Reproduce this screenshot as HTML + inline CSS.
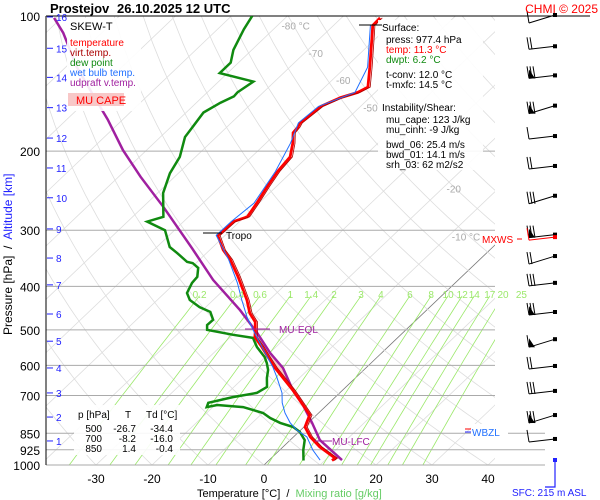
<!DOCTYPE html>
<html><head><meta charset="utf-8">
<style>
html,body{margin:0;padding:0;background:#fff;}
svg{display:block;font-family:"Liberation Sans",Arial,sans-serif;}
text{white-space:pre;}
</style></head>
<body>
<svg id="chart" width="600" height="500" viewBox="0 0 600 500" xmlns="http://www.w3.org/2000/svg">
<defs><clipPath id="pc"><rect x="46" y="16" width="449" height="449"/></clipPath></defs>
<rect width="600" height="500" fill="#fff"/>
<g id="grid" clip-path="url(#pc)"></g>
<g id="isobars"></g>
<g id="series" clip-path="url(#pc)"></g>
<g id="overlay"></g>
</svg>
<script>
// ---- data (pressure hPa, temperature °C) ----
const tempP=[977,965,912,866,823,802,774,735,681,640,608,575,546,519,500,480,459,429,381,349,332,308,287,280,261,240,222,206,192,182,177,173,166,159,152,148,144,130,109,105,101];
const tempT=[11.3,11.4,6.6,3.0,0.2,-0.4,-1.2,-4.3,-8.9,-12.9,-16.2,-19.5,-22.5,-25.6,-26.9,-28.4,-31.0,-34.0,-39.9,-44.5,-47.6,-51.3,-51.1,-49.5,-50.4,-51.6,-52.6,-53.1,-55.2,-57.1,-57.3,-57.7,-57.4,-57.1,-55.2,-53.1,-52.3,-55.7,-61.7,-63.0,-63.1];
const dewP=[977,926,880,844,823,806,786,766,743,735,743,727,706,691,670,640,614,593,575,546,521,513,500,488,475,456,445,429,414,393,381,364,355,353,337,327,300,287,280,248,224,206,186,177,164,156,151,148,140,134,127,119,107,100];
const dewT=[6.2,4.2,2.6,0.2,-1.9,-5.0,-7.7,-9.9,-14.6,-19.6,-21.1,-21.6,-18.3,-14.8,-14.1,-15.8,-17.1,-18.6,-20.1,-23.4,-25.8,-29.9,-35.5,-36.4,-36.3,-38.3,-41.1,-44.2,-46.0,-47.0,-47.2,-48.7,-50.6,-51.8,-55.3,-57.7,-61.7,-66.5,-64.5,-69.0,-71.5,-72.8,-75.6,-76.1,-76.9,-75.7,-74.5,-74.6,-73.8,-81.4,-81.4,-83.3,-85.3,-86.3];
const wbP=[975,926,866,836,806,766,727,691,637,605,554,500,468,429,393,349,308,287,261,222,192,173,159,148,130,105];
const wbT=[9.1,5.9,2.4,-0.7,-3.2,-6.0,-8.4,-10.3,-14.2,-16.8,-21.7,-27.3,-30.8,-34.9,-38.9,-44.8,-51.6,-51.5,-50.9,-53.0,-55.6,-58.0,-57.5,-53.6,-56.1,-63.4];
const parP=[975,880,806,735,681,608,563,508,452,387,329,266,228,199,170,151,130,109,101];
const parT=[13.0,5.3,0.7,-4.3,-8.9,-14.8,-19.9,-26.0,-33.3,-43.8,-53.5,-66.4,-76.1,-84.2,-92.7,-99.5,-108,-116.9,-121.3];
const isobarLevels=[100,200,300,400,500,600,700,850,925,1000];
const xTicks=[-30,-20,-10,0,10,20,30,40];
const mixRatios=[0.2,0.4,0.6,1,1.4,2,3,4,6,8,10,12,14,17,20,25];
const mixLabels=["0.2","0.4","0.6","1","1.4","2","3","4","6","8","10","12","14","17","20","25"];
const isoLabelT=[-80,-70,-60,-50,-40,-30,-20,-10];
const isoLabelP=[105,121,139,160,184,211,242,310];
const altKm=[1,2,3,4,5,6,7,8,9,10,11,12,13,14,15,16];
const altP=[884,782,691,608,530,461,397,346,298,254,218,187,160,137,118,100.5];
const barbP=[100,118,137,160,187,218,254,310,314,346,397,461,530,608,691,782,884];

// ---- axes ----
const Y0=465,K=195,X0=264,SX=5.6,SK=1.05;
function yP(p){return Y0-K*Math.log(1000/p);}
function xT(t,p){return X0+SX*t+SK*(Y0-yP(p));}
const NS="http://www.w3.org/2000/svg";
function mk(tag,attrs,parent){const e=document.createElementNS(NS,tag);for(const k in attrs)e.setAttribute(k,attrs[k]);parent.appendChild(e);return e;}
const grid=document.getElementById('grid'),iso=document.getElementById('isobars'),ser=document.getElementById('series'),ov=document.getElementById('overlay');

for(let t=-160;t<=50;t+=10){
  const l=mk('line',{x1:xT(t,1000),y1:Y0,x2:xT(t,100),y2:yP(100),stroke:t===0?'#777':'#ddd','stroke-width':0.8},grid);
  
  
}
for(let th=-40;th<=200;th+=10){
  let d='';
  for(let p=1000;p>=100;p-=15){const t=(th+273.15)*Math.pow(p/1000,0.2857)-273.15;d+=(d?'L':'M')+xT(t,p).toFixed(1)+','+yP(p).toFixed(1);}
  const a=mk('path',{d:d,fill:'none',stroke:'#ddd','stroke-width':0.8},grid);
  
  
}
mixRatios.forEach((w,i)=>{
  let d='';
  for(let p=1000;p>=420;p-=20){const e=w*p/(622+w);const L=Math.log(e/6.112);const t=243.5*L/(17.67-L);d+=(d?'L':'M')+xT(t,p).toFixed(1)+','+yP(p).toFixed(1);}
  const m=mk('path',{d:d,fill:'none',stroke:'#9be86a','stroke-width':0.8},grid);
  
  
  const e=w*420/(622+w),L=Math.log(e/6.112),t=243.5*L/(17.67-L);
  const tx=mk('text',{x:xT(t,420),y:298,'font-size':10,fill:'#9be86a','text-anchor':'middle'},ov);
  tx.textContent=mixLabels[i];
  
  
});
isoLabelT.forEach((t,i)=>{
  const tx=mk('text',{x:xT(t,isoLabelP[i])+4,y:yP(isoLabelP[i])+4,'font-size':10,fill:'#aaa'},ov);
  tx.textContent=(t===-80||t===-10)?t+' °C':String(t);
  
  
});
isobarLevels.forEach(p=>{
  const y=yP(p);
  const l=mk('line',{x1:46,y1:y,x2:p>=850?545:(p===100?590:495),y2:y,stroke:p===100?'#000':'#aaa','stroke-width':1},iso);
  
  
  const tx=mk('text',{x:40,y:y+5,'font-size':12,'text-anchor':'end',fill:'#000'},iso);
  tx.textContent=p;
  
  
});
const yAx=mk('line',{x1:46,y1:16,x2:46,y2:465,stroke:'#000','stroke-width':1},iso);


altKm.forEach((k,i)=>{
  const y=yP(altP[i]);
  const tk=mk('line',{x1:47,y1:y,x2:53,y2:y,stroke:'#22f','stroke-width':1},ov);
  
  
  const tx=mk('text',{x:56,y:y+4,'font-size':10,fill:'#22f'},ov);
  tx.textContent=k;
  
  
});
xTicks.forEach(t=>{
  const tx=mk('text',{x:xT(t,1000),y:483,'font-size':12,'text-anchor':'middle',fill:'#000'},ov);
  tx.textContent=t;
  
  
});

function path(P,T){return P.map((p,i)=>(i?'L':'M')+xT(T[i],p).toFixed(1)+','+yP(p).toFixed(1)).join('');}
(function(){
  const pts=[];
  parP.forEach((p,i)=>{if(p<=830&&p>=500)pts.push(xT(parT[i],p).toFixed(1)+','+yP(p).toFixed(1));});
  const rev=[];
  tempP.forEach((p,i)=>{if(p<=830&&p>=500)rev.push(xT(tempT[i],p).toFixed(1)+','+yP(p).toFixed(1));});
  const c=mk('polygon',{points:pts.concat(rev.reverse()).join(' '),fill:'#f8c8c8'},ser);
  
  
})();
const sParcel=mk('path',{d:path(parP,parT),fill:'none',stroke:'#a020a0','stroke-width':2.5},ser);


const sDew=mk('path',{d:path(dewP,dewT),fill:'none',stroke:'#108a10','stroke-width':2.5},ser);


const sTemp=mk('path',{d:path(tempP,tempT),fill:'none',stroke:'#f00','stroke-width':2.8},ser);


const sVirt=mk('path',{d:path(tempP,tempT.map(t=>t+0.4)),fill:'none',stroke:'#a00','stroke-width':0.8},ser);


const sWb=mk('path',{d:path(wbP,wbT),fill:'none',stroke:'#2070ff','stroke-width':1},ser);



barbP.forEach((p,i)=>{
  let y=yP(p)-2;
  if(i===0)y=15;
  const red=(i===8);
  const col=red?'#f00':'#000';
  const g=mk('g',{},ov);
  
  
  const tipy=y+ (i%3===0?8:3);
  mk('line',{x1:555,y1:y,x2:529,y2:tipy,stroke:col,'stroke-width':1},g);
  mk('rect',{x:553,y:y-2,width:4,height:4,fill:col},g);
  const n=(i%4)+1;
  for(let k=0;k<Math.min(n,3);k++){mk('line',{x1:529+k*3,y1:tipy,x2:527+k*3,y2:tipy-12,stroke:col,'stroke-width':1},g);}
  if(n===4||i%5===2)mk('polygon',{points:`529,${tipy} 535,${tipy} 529,${tipy-9}`,fill:col},g);
});
mk('rect',{x:553,y:458,width:4,height:4,fill:'#22f'},ov);
mk('polyline',{points:'555,460 555,487 545,487',fill:'none',stroke:'#22f','stroke-width':1.2},ov);
</script>
<svg width="600" height="500" viewBox="0 0 600 500" style="position:absolute;left:0;top:0" xmlns="http://www.w3.org/2000/svg" font-family="Liberation Sans, Arial, sans-serif">
<text x="50" y="13" font-size="13" font-weight="bold">Prostejov</text>
<text x="117" y="13" font-size="13" font-weight="bold">26.10.2025 12 UTC</text>
<text x="598" y="13" font-size="12" fill="#f00" text-anchor="end">CHMI © 2025</text>
<g>
<rect x="67" y="18" width="74" height="93" fill="#fff" opacity="0.9"/>
<text x="70" y="30" font-size="11">SKEW-T</text>
<text x="70" y="46" font-size="10" fill="#f00">temperature</text>
<text x="70" y="56" font-size="10" fill="#a00">virt.temp.</text>
<text x="70" y="66" font-size="10" fill="#108a10">dew point</text>
<text x="70" y="76" font-size="10" fill="#2070ff">wet bulb temp.</text>
<text x="70" y="86" font-size="10" fill="#a020a0">udpraft v.temp.</text>
<rect x="68" y="93" width="56" height="13" fill="#f8c8c8"/>
<text x="76" y="104" font-size="11" fill="#f00">MU CAPE</text>
</g>
<g>
<rect x="378" y="20" width="105" height="150" fill="#fff" opacity="0.9"/>
<line x1="359" y1="25" x2="382" y2="25" stroke="#000"/>
<text x="382" y="31" font-size="10">Surface:</text>
<text x="386" y="43" font-size="10">press: 977.4 hPa</text>
<text x="386" y="53" font-size="10" fill="#f00">temp: 11.3 °C</text>
<text x="386" y="63" font-size="10" fill="#108a10">dwpt: 6.2 °C</text>
<text x="386" y="78" font-size="10">t-conv: 12.0 °C</text>
<text x="386" y="88" font-size="10">t-mxfc: 14.5 °C</text>
<text x="382" y="111" font-size="10">Instability/Shear:</text>
<text x="386" y="123" font-size="10">mu_cape: 123 J/kg</text>
<text x="386" y="133" font-size="10">mu_cinh: -9 J/kg</text>
<text x="386" y="148" font-size="10">bwd_06: 25.4 m/s</text>
<text x="386" y="158" font-size="10">bwd_01: 14.1 m/s</text>
<text x="386" y="168" font-size="10">srh_03: 62 m2/s2</text>
</g>
<g font-size="10">
<rect x="74" y="405" width="106" height="50" fill="#fff" opacity="0.9"/>
<text x="78" y="418">p [hPa]</text><text x="125" y="418">T</text><text x="146" y="418">Td [°C]</text>
<text x="102" y="432" text-anchor="end">500</text><text x="136" y="432" text-anchor="end">-26.7</text><text x="173" y="432" text-anchor="end">-34.4</text>
<text x="102" y="442" text-anchor="end">700</text><text x="136" y="442" text-anchor="end">-8.2</text><text x="173" y="442" text-anchor="end">-16.0</text>
<text x="102" y="452" text-anchor="end">850</text><text x="136" y="452" text-anchor="end">1.4</text><text x="173" y="452" text-anchor="end">-0.4</text>
</g>
<line x1="203" y1="233" x2="222" y2="233" stroke="#000"/>
<text x="226" y="239" font-size="10">Tropo</text>
<line x1="245" y1="329" x2="270" y2="329" stroke="#a020a0"/>
<text x="279" y="333" font-size="10" fill="#a020a0">MU-EQL</text>
<line x1="315" y1="441" x2="332" y2="441" stroke="#a020a0"/>
<text x="332" y="445" font-size="10" fill="#a020a0">MU-LFC</text>
<text x="482" y="243" font-size="10" fill="#f00">MXWS</text>
<line x1="517" y1="239" x2="522" y2="239" stroke="#f00"/>
<rect x="471" y="424" width="37" height="13" fill="#fff"/>
<line x1="465" y1="429" x2="471" y2="429" stroke="#f00"/><line x1="465" y1="432" x2="471" y2="432" stroke="#22f"/>
<text x="472" y="436" font-size="10" fill="#2070ff">WBZL</text>
<text x="197" y="497" font-size="11">Temperature [°C]  /  <tspan fill="#6c6">Mixing ratio [g/kg]</tspan></text>
<text x="512" y="496" font-size="10" fill="#22f">SFC: 215 m ASL</text>
<text transform="translate(12,335) rotate(-90)" font-size="12">Pressure [hPa]  /  <tspan fill="#22f">Altitude [km]</tspan></text>
</svg>
</body></html>
